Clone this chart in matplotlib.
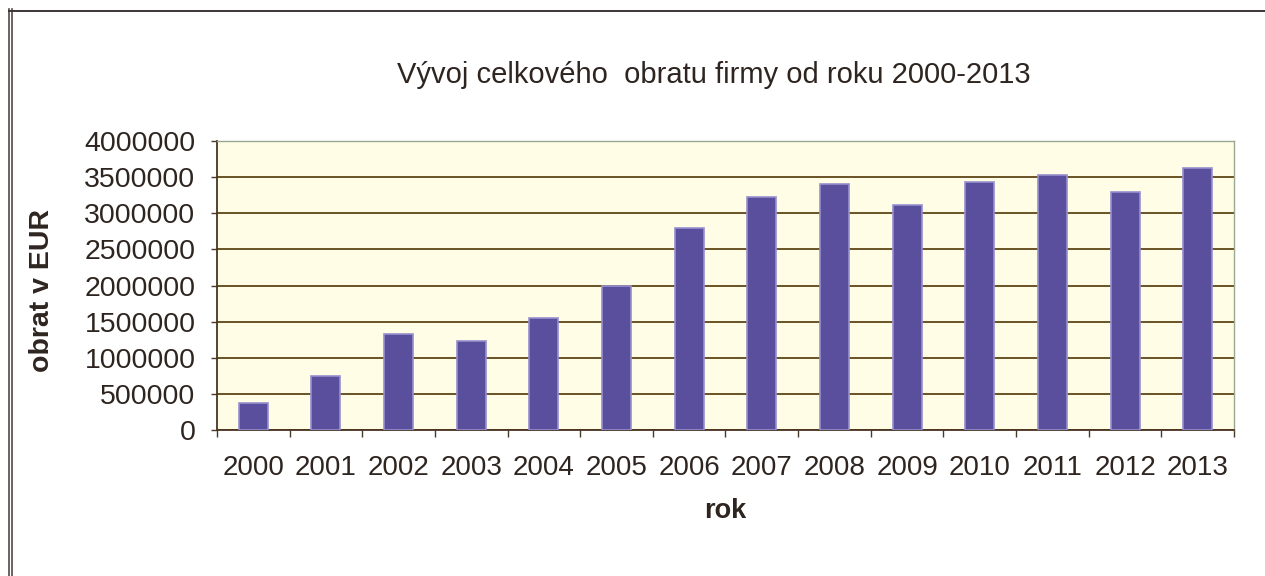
import matplotlib.pyplot as plt
from matplotlib.ticker import MultipleLocator, FixedLocator, StrMethodFormatter

years = ["2000", "2001", "2002", "2003", "2004", "2005", "2006",
         "2007", "2008", "2009", "2010", "2011", "2012", "2013"]
obrat = [380000, 750000, 1330000, 1230000, 1555000, 2000000, 2800000,
         3230000, 3400000, 3110000, 3440000, 3530000, 3300000, 3630000]

plt.rcParams["font.family"] = ["Liberation Sans", "DejaVu Sans"]
text_col = "#2e2520"

fig = plt.figure(figsize=(12.65, 5.76), dpi=100)
ax = fig.add_axes([0.1715, 0.2535, 0.804, 0.5015])
ax.set_facecolor("#fffde6")

# chart frame (double line on the left, single on top)
for x0 in (0.0071, 0.0095):
    fig.add_artist(plt.Line2D([x0, x0], [0, 0.984], color="#554848", lw=1.2,
                              transform=fig.transFigure))
fig.add_artist(plt.Line2D([0.0071, 1.0], [0.981, 0.981], color="#3d3535", lw=1.4,
                          transform=fig.transFigure))

x = range(len(years))
ax.bar(x, obrat, width=0.4, color="#5a4f9c", edgecolor="#9690cf", linewidth=1.2, zorder=3)

ax.set_xlim(-0.5, len(years) - 0.5)
ax.set_ylim(0, 4000000)
ax.yaxis.set_major_locator(MultipleLocator(500000))
ax.yaxis.set_major_formatter(StrMethodFormatter("{x:.0f}"))
ax.grid(axis="y", color="#5e4515", lw=1.3, zorder=1)
ax.set_axisbelow(True)

ax.set_xticks(list(x))
ax.set_xticklabels(years)
ax.xaxis.set_minor_locator(FixedLocator([i - 0.5 for i in range(len(years) + 1)]))
ax.tick_params(axis="x", which="major", length=0, pad=18, labelsize=20, labelcolor=text_col)
ax.tick_params(axis="x", which="minor", length=5, width=1, color="#4a3a2a", direction="out")
ax.tick_params(axis="y", length=4.5, width=1, color="#4a3a2a", direction="out",
               labelsize=20.5, labelcolor=text_col, pad=11)

for side in ("left", "bottom"):
    ax.spines[side].set_color("#4a3422")
    ax.spines[side].set_linewidth(1.3)
for side in ("top", "right"):
    ax.spines[side].set_color("#9aa890")
    ax.spines[side].set_linewidth(1.0)

fig.text(42 / 1265, 1 - 290 / 576, "obrat v EUR", rotation=90, ha="center", va="center",
         fontsize=20.5, fontweight="bold", color=text_col)
fig.text(725 / 1265, 1 - 511 / 576, "rok", ha="center", va="center",
         fontsize=19.5, fontweight="bold", color=text_col)
fig.text(0.564, 0.870, "Vývoj celkového  obratu firmy od roku 2000-2013",
         ha="center", va="center", fontsize=21, color=text_col)

fig.savefig("out.png", dpi=100)
